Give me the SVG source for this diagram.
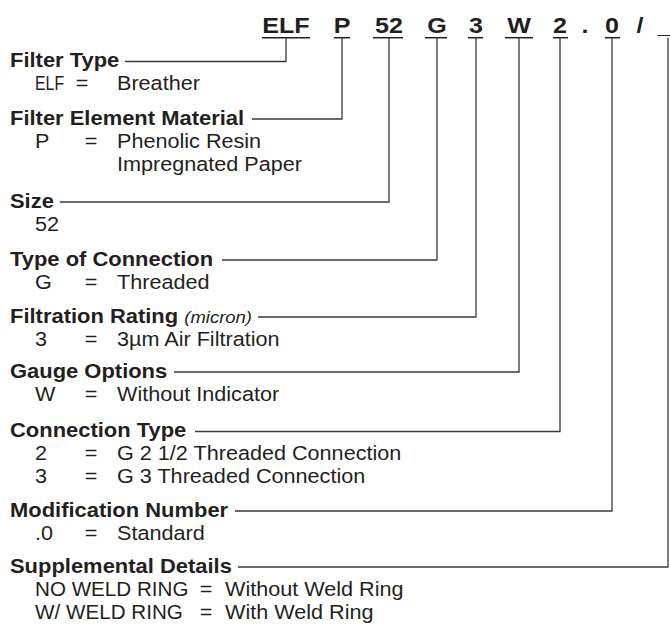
<svg xmlns="http://www.w3.org/2000/svg" width="670" height="629" viewBox="0 0 670 629">
<style>
text{font-family:"Liberation Sans",Arial,Helvetica,sans-serif;fill:#231f20}
.code{font-size:22.4px;font-weight:bold;text-anchor:middle}
.h{font-size:19.6px;font-weight:bold}
.t{font-size:19.3px}
.eq{font-size:19.3px;text-anchor:middle}
.it{font-size:16.5px;font-style:italic;font-weight:normal}
.ul{stroke:#231f20;stroke-width:1.5}
.c{fill:none;stroke:#3a3a3a;stroke-width:1.3}
</style>
<rect width="670" height="629" fill="#fff"/>
<g id="code">
<g transform="scale(1.12 1)">
<text class="code" x="255.36" y="33.5">ELF</text>
<text class="code" x="305.36" y="33.5">P</text>
<text class="code" x="347.32" y="33.5">52</text>
<text class="code" x="390.18" y="33.5">G</text>
<text class="code" x="425" y="33.5">3</text>
<text class="code" x="463.39" y="33.5">W</text>
<text class="code" x="500" y="33.5">2</text>
<text class="code" x="522.32" y="33.5">.</text>
<text class="code" x="546.43" y="33.5">0</text>
<text class="code" x="571.43" y="33.5">/</text>
<text class="code" x="593.3" y="33.5">_</text>
</g>
<line class="ul" x1="262" y1="37.7" x2="310" y2="37.7"/>
<line class="ul" x1="334" y1="37.7" x2="350" y2="37.7"/>
<line class="ul" x1="373" y1="37.7" x2="403" y2="37.7"/>
<line class="ul" x1="425" y1="37.7" x2="447" y2="37.7"/>
<line class="ul" x1="468" y1="37.7" x2="483" y2="37.7"/>
<line class="ul" x1="505" y1="37.7" x2="533" y2="37.7"/>
<line class="ul" x1="553" y1="37.7" x2="568" y2="37.7"/>
<line class="ul" x1="605" y1="37.7" x2="620" y2="37.7"/>
</g>
<g id="filter-type" transform="scale(1.12 1)">
<text class="h" x="8.93" y="67.5">Filter Type</text>
<text class="t" x="31.25" y="90.5" textLength="26" lengthAdjust="spacingAndGlyphs">ELF</text><text class="eq" x="73.2" y="90.5">=</text><text class="t" x="104.46" y="90.5">Breather</text>
</g>
<g id="filter-element-material" transform="scale(1.12 1)">
<text class="h" x="8.93" y="125">Filter Element Material</text>
<text class="t" x="31.25" y="148">P</text><text class="eq" x="81.25" y="148">=</text><text class="t" x="104.46" y="148">Phenolic Resin</text>
<text class="t" x="104.46" y="171">Impregnated Paper</text>
</g>
<g id="size" transform="scale(1.12 1)">
<text class="h" x="8.93" y="208">Size</text>
<text class="t" x="31.25" y="231">52</text>
</g>
<g id="type-of-connection" transform="scale(1.12 1)">
<text class="h" x="8.93" y="266">Type of Connection</text>
<text class="t" x="31.25" y="289">G</text><text class="eq" x="81.25" y="289">=</text><text class="t" x="104.46" y="289">Threaded</text>
</g>
<g id="filtration-rating" transform="scale(1.12 1)">
<text class="h" x="8.93" y="323">Filtration Rating <tspan class="it">(micron)</tspan></text>
<text class="t" x="31.25" y="346">3</text><text class="eq" x="81.25" y="346">=</text><text class="t" x="104.46" y="346">3µm Air Filtration</text>
</g>
<g id="gauge-options" transform="scale(1.12 1)">
<text class="h" x="8.93" y="378">Gauge Options</text>
<text class="t" x="31.25" y="401">W</text><text class="eq" x="81.25" y="401">=</text><text class="t" x="104.46" y="401">Without Indicator</text>
</g>
<g id="connection-type" transform="scale(1.12 1)">
<text class="h" x="8.93" y="437.5">Connection Type</text>
<text class="t" x="31.25" y="460.5">2</text><text class="eq" x="81.25" y="460.5">=</text><text class="t" x="104.46" y="460.5">G 2 1/2 Threaded Connection</text>
<text class="t" x="31.25" y="483.5">3</text><text class="eq" x="81.25" y="483.5">=</text><text class="t" x="104.46" y="483.5">G 3 Threaded Connection</text>
</g>
<g id="modification-number" transform="scale(1.12 1)">
<text class="h" x="8.93" y="517">Modification Number</text>
<text class="t" x="31.25" y="540">.0</text><text class="eq" x="81.25" y="540">=</text><text class="t" x="104.46" y="540">Standard</text>
</g>
<g id="supplemental-details" transform="scale(1.12 1)">
<text class="h" x="8.93" y="573">Supplemental Details</text>
<text class="t" x="31.25" y="596" textLength="137" lengthAdjust="spacingAndGlyphs">NO WELD RING</text><text class="eq" x="183.9" y="596">=</text><text class="t" x="200.9" y="596">Without Weld Ring</text>
<text class="t" x="31.25" y="619" textLength="132" lengthAdjust="spacingAndGlyphs">W/ WELD RING</text><text class="eq" x="183.9" y="619">=</text><text class="t" x="200.9" y="619">With Weld Ring</text>
</g>
<g id="connectors">
<polyline class="c" points="286,37.7 286,61.5 125,61.5"/>
<polyline class="c" points="342,37.7 342,119 252,119"/>
<polyline class="c" points="389,37.7 389,202 60,202"/>
<polyline class="c" points="437,37.7 437,260 222,260"/>
<polyline class="c" points="476,37.7 476,317 258,317"/>
<polyline class="c" points="519,37.7 519,372 174,372"/>
<polyline class="c" points="560,37.7 560,431.5 195,431.5"/>
<polyline class="c" points="612,37.7 612,511 235,511"/>
<polyline class="c" points="668,37.7 668,567 238,567"/>
</g>
</svg>
